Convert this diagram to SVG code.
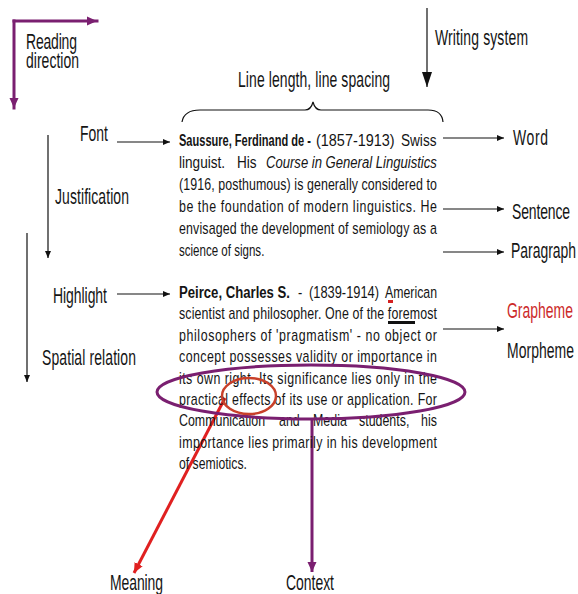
<svg xmlns="http://www.w3.org/2000/svg" width="578" height="594" viewBox="0 0 578 594">
<style>
text{font-family:"Liberation Sans",Arial,sans-serif;fill:#151515}
.L{font-size:22px}
.T{font-size:17px}
.b{font-weight:bold}
.i{font-style:italic}
.red{fill:#cc2a2a}
.thin{stroke:#111;stroke-width:1.2;fill:none}
.pur{stroke:#7a1f70;stroke-width:3;fill:none}
</style>
<defs>
<marker id="ah" markerUnits="userSpaceOnUse" markerWidth="8" markerHeight="8" refX="7" refY="4" orient="auto"><path d="M0,1 L7,4 L0,7 z" fill="#111"/></marker>
<marker id="ahBig" markerUnits="userSpaceOnUse" markerWidth="16" markerHeight="12" refX="15" refY="6" orient="auto"><path d="M0,1 L15,6 L0,11 z" fill="#111"/></marker>
<marker id="ahP" markerUnits="userSpaceOnUse" markerWidth="12" markerHeight="12" refX="10" refY="6" orient="auto"><path d="M0,1.5 L10,6 L0,10.5 z" fill="#7a1f70"/></marker>
<marker id="ahR" markerUnits="userSpaceOnUse" markerWidth="12" markerHeight="12" refX="10" refY="6" orient="auto"><path d="M0,1.5 L10,6 L0,10.5 z" fill="#e02020"/></marker>
</defs>
<rect width="578" height="594" fill="#fff"/>

<g id="connectors">
<line class="pur" x1="14" y1="21" x2="97" y2="21" stroke-linecap="square" marker-end="url(#ahP)"/>
<line class="pur" x1="14" y1="21" x2="14" y2="108" stroke-linecap="square" marker-end="url(#ahP)"/>
<line class="thin" x1="427" y1="8" x2="427" y2="87" marker-end="url(#ahBig)"/>
<path class="thin" d="M182,122 Q184,110 200,110 L305,110 Q311,110 313,102 Q315,110 321,110 L428,110 Q442,110 443,122"/>
<line class="thin" x1="117" y1="142" x2="170" y2="142" marker-end="url(#ah)"/>
<line class="thin" x1="117" y1="294" x2="170" y2="294" marker-end="url(#ah)"/>
<line class="thin" x1="48" y1="135" x2="48" y2="258" marker-end="url(#ah)"/>
<line class="thin" x1="27" y1="233" x2="27" y2="382" marker-end="url(#ah)"/>
<line class="thin" x1="443" y1="138" x2="504" y2="138" marker-end="url(#ah)"/>
<line class="thin" x1="443" y1="209" x2="504" y2="209" marker-end="url(#ah)"/>
<line class="thin" x1="443" y1="252" x2="504" y2="252" marker-end="url(#ah)"/>
<line class="thin" x1="443" y1="329" x2="504" y2="329" marker-end="url(#ah)"/>
<line x1="225" y1="398" x2="134" y2="573" stroke="#e02020" stroke-width="3" marker-end="url(#ahR)"/>
<line class="pur" x1="312" y1="418" x2="312" y2="572" marker-end="url(#ahP)"/>
</g>

<g id="reading-direction">
<text class="L" transform="translate(26,49) scale(0.635,1)" textLength="80.3" lengthAdjust="spacing">Reading</text>
<text class="L" transform="translate(26,68) scale(0.635,1)" textLength="83.5" lengthAdjust="spacing">direction</text>
</g>
<g id="writing-system"><text class="L" transform="translate(435,45) scale(0.635,1)" textLength="146.5" lengthAdjust="spacing">Writing system</text></g>
<g id="line-length"><text class="L" transform="translate(238,87) scale(0.635,1)" textLength="239.4" lengthAdjust="spacing">Line length, line spacing</text></g>
<g id="font"><text class="L" transform="translate(80,141) scale(0.635,1)" textLength="44.1" lengthAdjust="spacing">Font</text></g>
<g id="justification"><text class="L" transform="translate(55,204) scale(0.635,1)" textLength="116.5" lengthAdjust="spacing">Justification</text></g>
<g id="highlight"><text class="L" transform="translate(53,303) scale(0.635,1)" textLength="85" lengthAdjust="spacing">Highlight</text></g>
<g id="spatial-relation"><text class="L" transform="translate(42,365) scale(0.635,1)" textLength="148" lengthAdjust="spacing">Spatial relation</text></g>
<g id="word"><text class="L" transform="translate(513,145) scale(0.635,1)" textLength="55.1" lengthAdjust="spacing">Word</text></g>
<g id="sentence"><text class="L" transform="translate(512,219) scale(0.635,1)" textLength="91.3" lengthAdjust="spacing">Sentence</text></g>
<g id="paragraph"><text class="L" transform="translate(511,258) scale(0.635,1)" textLength="102.4" lengthAdjust="spacing">Paragraph</text></g>
<g id="grapheme"><text class="L red" transform="translate(507,318) scale(0.635,1)" textLength="103.9" lengthAdjust="spacing">Grapheme</text></g>
<g id="morpheme"><text class="L" transform="translate(507,358) scale(0.635,1)" textLength="105.5" lengthAdjust="spacing">Morpheme</text></g>
<g id="meaning"><text class="L" transform="translate(110,590) scale(0.635,1)" textLength="83.5" lengthAdjust="spacing">Meaning</text></g>
<g id="context"><text class="L" transform="translate(286,590) scale(0.635,1)" textLength="75.6" lengthAdjust="spacing">Context</text></g>

<g id="saussure">
<text class="T b" transform="translate(179,146) scale(0.65,1)">Saussure, Ferdinand de -</text>
<text class="T" transform="translate(316,146) scale(0.85,1)">(1857-1913)</text>
<text class="T" transform="translate(401,146) scale(0.8,1)">Swiss</text>
<text class="T" transform="translate(179,168) scale(0.8,1)">linguist.</text>
<text class="T" transform="translate(237,168) scale(0.8,1)">His</text>
<text class="T i" transform="translate(266,168) scale(0.77,1)">Course in General Linguistics</text>
<text class="T" transform="translate(179,190) scale(0.73,1)" textLength="353.4" lengthAdjust="spacing">(1916, posthumous) is generally considered to</text>
<text class="T" transform="translate(179,212) scale(0.73,1)" textLength="353.4" lengthAdjust="spacing">be the foundation of modern linguistics. He</text>
<text class="T" transform="translate(179,234) scale(0.73,1)" textLength="353.4" lengthAdjust="spacing">envisaged the development of semiology as a</text>
<text class="T" transform="translate(179,256) scale(0.68,1)">science of signs.</text>
</g>

<g id="peirce">
<text class="T b" transform="translate(179,298) scale(0.773,1)" textLength="143.6" lengthAdjust="spacing">Peirce, Charles S.</text>
<text class="T" transform="translate(298,298) scale(0.75,1)">-</text>
<text class="T" transform="translate(309,298) scale(0.756,1)" textLength="92.6" lengthAdjust="spacing">(1839-1914)</text>
<text class="T" transform="translate(385,298) scale(0.724,1)" textLength="71.8" lengthAdjust="spacing">American</text>
<text class="T" transform="translate(179,319.4) scale(0.73,1)" textLength="353.4" lengthAdjust="spacing">scientist and philosopher. One of the foremost</text>
<text class="T" transform="translate(179,340.8) scale(0.73,1)" textLength="353.4" lengthAdjust="spacing">philosophers of 'pragmatism' - no object or</text>
<text class="T" transform="translate(179,362.1) scale(0.73,1)" textLength="353.4" lengthAdjust="spacing">concept possesses validity or importance in</text>
<text class="T" transform="translate(179,383.5) scale(0.73,1)" textLength="353.4" lengthAdjust="spacing">its own right. Its significance lies only in the</text>
<text class="T" transform="translate(179,404.9) scale(0.73,1)" textLength="353.4" lengthAdjust="spacing">practical effects of its use or application. For</text>
<text class="T" transform="translate(179,426.3) scale(0.73,1)">Communication</text>
<text class="T" transform="translate(279,426.3) scale(0.73,1)">and</text>
<text class="T" transform="translate(313,426.3) scale(0.73,1)">Media</text>
<text class="T" transform="translate(359,426.3) scale(0.73,1)">students,</text>
<text class="T" transform="translate(421,426.3) scale(0.73,1)">his</text>
<text class="T" transform="translate(179,447.6) scale(0.73,1)" textLength="353.4" lengthAdjust="spacing">importance lies primarily in his development</text>
<text class="T" transform="translate(179,469) scale(0.72,1)" textLength="94.4" lengthAdjust="spacing">of semiotics.</text>
<rect x="388" y="321" width="27" height="3" fill="#111"/>
<rect x="388" y="300" width="5" height="3" fill="#d42020"/>
</g>

<g id="highlight-ellipses">
<ellipse cx="311" cy="392" rx="154" ry="27" fill="none" stroke="#7a1f70" stroke-width="3"/>
<ellipse cx="249" cy="396" rx="27" ry="18" fill="none" stroke="#c8402a" stroke-width="2.5"/>
</g>
</svg>
